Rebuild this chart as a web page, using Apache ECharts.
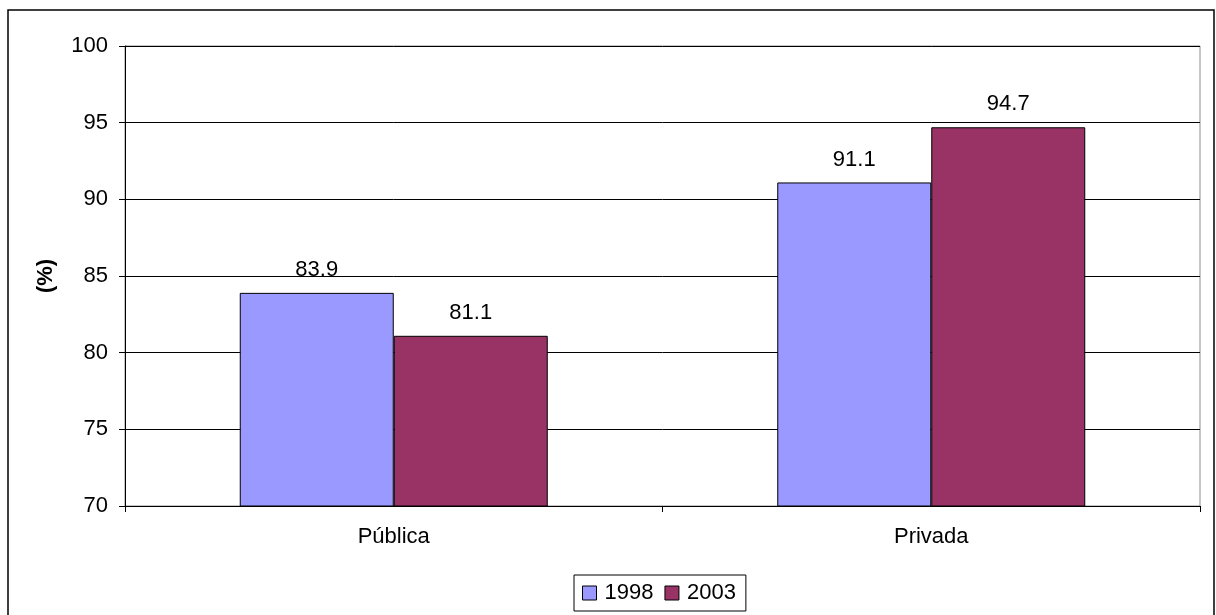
<!DOCTYPE html>
<html>
<head>
<meta charset="utf-8">
<script src="https://cdn.jsdelivr.net/npm/echarts@6/dist/echarts.min.js"></script>
<style>
  html, body { margin: 0; padding: 0; background: #fff; }
  #chart { width: 1216px; height: 615px; }
</style>
</head>
<body>
<div id="chart"></div>
<script>
// Categories, series and axis ticks
const categories = ['Pública', 'Privada'];
const values1998 = [83.9, 91.1];
const values2003 = [81.1, 94.7];
const seriesNames = ['1998', '2003'];
const yTicks = [70, 75, 80, 85, 90, 95, 100];

const FONT = 'Liberation Sans, Arial, sans-serif';
const FS = 22;

const chart = echarts.init(document.getElementById('chart'), null, { renderer: 'canvas' });

function barSeries(name, data, color) {
  return {
    name: name,
    type: 'bar',
    data: data,
    barWidth: 154,
    barGap: '0%',
    itemStyle: { color: color, borderColor: '#000', borderWidth: 1 },
    label: {
      show: true,
      position: 'top',
      distance: 12,
      color: '#000',
      fontFamily: FONT,
      fontSize: FS,
      formatter: p => p.value.toFixed(1)
    }
  };
}

chart.setOption({
  animation: false,
  backgroundColor: '#fff',
  graphic: [{
    type: 'rect',
    shape: { x: 8, y: 10, width: 1206, height: 620 },
    style: { fill: 'none', stroke: '#000', lineWidth: 1.5 },
    silent: true
  }],
  grid: {
    left: 125, right: 16, top: 46, bottom: 109,
    show: true, borderColor: '#8c8c8c', borderWidth: 1
  },
  legend: {
    data: seriesNames,
    left: 574, top: 575,
    itemWidth: 14, itemHeight: 14, itemGap: 11,
    padding: [7, 10, 7, 8],
    borderColor: '#000', borderWidth: 1,
    textStyle: { fontFamily: FONT, fontSize: FS, color: '#000', padding: [0, 0, 0, 3] },
    itemStyle: { borderColor: '#000', borderWidth: 1 },
    icon: 'rect'
  },
  xAxis: {
    type: 'category',
    data: categories,
    axisLine: { lineStyle: { color: '#000', width: 1 } },
    axisTick: { show: true, length: 6, lineStyle: { color: '#000' } },
    axisLabel: { fontFamily: FONT, fontSize: FS, color: '#000', margin: 20 }
  },
  yAxis: {
    type: 'value',
    min: yTicks[0], max: yTicks[yTicks.length - 1], interval: 5,
    name: '(%)',
    nameLocation: 'middle',
    nameGap: 68,
    nameRotate: 90,
    nameTextStyle: { fontFamily: FONT, fontSize: FS, fontWeight: 'bold', color: '#000' },
    axisLine: { show: true, lineStyle: { color: '#000', width: 1 } },
    axisTick: { show: true, length: 6, lineStyle: { color: '#000' } },
    axisLabel: { fontFamily: FONT, fontSize: FS, color: '#000', margin: 17 },
    splitLine: { show: true, lineStyle: { color: '#000', width: 1 } }
  },
  series: [
    barSeries(seriesNames[0], values1998, '#9999ff'),
    barSeries(seriesNames[1], values2003, '#993366')
  ]
});
</script>
</body>
</html>
